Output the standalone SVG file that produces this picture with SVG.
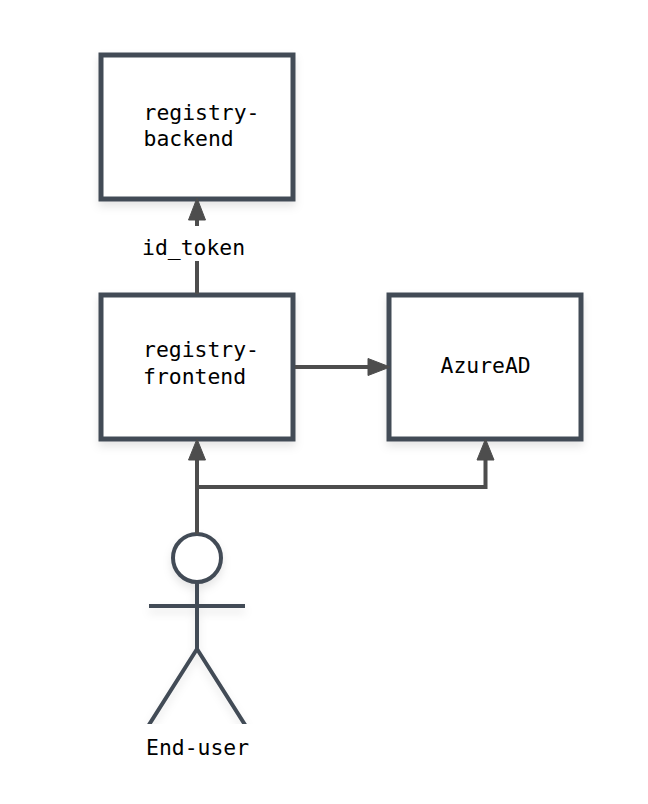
<svg xmlns="http://www.w3.org/2000/svg" width="648" height="804" viewBox="0 0 648 804">
<style>
.box{fill:#fff;stroke:#434c57;stroke-width:5}
.s{fill:none;stroke:#434c57;stroke-width:4}
.c{fill:none;stroke:#4d4d4d;stroke-width:4}
.a{fill:#4d4d4d;stroke:#4d4d4d;stroke-width:1}
text{font-family:"DejaVu Sans Mono","Liberation Mono",monospace;font-size:21.4px;fill:#000}
</style>
<defs>
<filter id="sh" x="-20%" y="-20%" width="140%" height="140%"><feDropShadow dx="0" dy="5" stdDeviation="4" flood-color="#000" flood-opacity="0.1"/></filter>
<clipPath id="cut"><rect x="130" y="520" width="140" height="204"/></clipPath>
</defs>
<rect width="648" height="804" fill="#fff"/>
<g id="registry-backend"><rect class="box" x="101" y="55" width="192" height="144" filter="url(#sh)"/>
<text x="143.500" y="120">registry-</text><text x="143.500" y="146">backend</text></g>
<g id="registry-frontend"><rect class="box" x="101" y="295" width="192" height="144" filter="url(#sh)"/>
<text x="143" y="357">registry-</text><text x="143" y="384">frontend</text></g>
<g id="azuread"><rect class="box" x="389" y="295" width="192" height="144" filter="url(#sh)"/>
<text x="440.500" y="373">AzureAD</text></g>
<g id="end-user">
<g clip-path="url(#cut)" filter="url(#sh)">
<circle class="s" cx="197" cy="558" r="24" style="fill:#fff"/>
<path class="s" d="M197 582V649M149 606H245M197 649L140 739M197 649L254 739"/>
</g>
<text x="146" y="755">End-user</text></g>
<g id="connectors">
<path class="c" d="M197 294V261M197 226V216"/>
<path class="a" d="M197 198L188.500 220H205.500Z"/>
<path class="c" d="M295 367H372"/>
<path class="a" d="M390 367L368 358.500V375.500Z"/>
<path class="c" d="M197 534V455"/>
<path class="a" d="M197 439L188.500 460H205.500Z"/>
<path class="c" d="M197 487H485.500V455"/>
<path class="a" d="M485.500 439L477 460H494Z"/>
</g>
<text x="142" y="255">id_token</text>
</svg>
